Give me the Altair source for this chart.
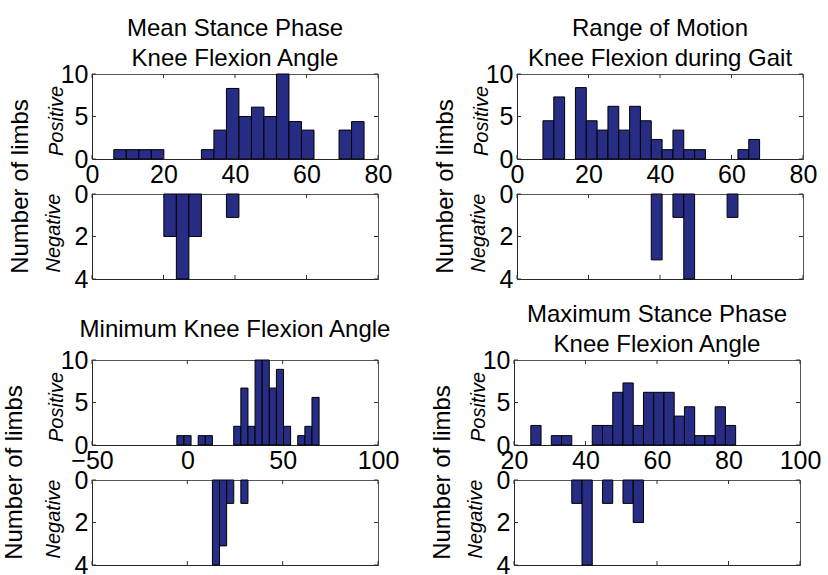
import altair as alt
import pandas as pd

FONT = "Liberation Sans"
BAR = "#272C84"
W, H = 286, 85

# ---- Panel data (histogram bins: start, width, counts per bin) ----
p1_title = ["Mean Stance Phase", "Knee Flexion Angle"]
p1_lo, p1_w = 6.1, 3.5
p1_pos = [1.1, 1.1, 1.1, 1.1, 0, 0, 0, 1.1, 3.4, 8.3, 5.0, 6.1, 5.0, 10, 4.4, 3.4, 0, 0, 3.4, 4.4]
p1_neg = [0, 0, 0, 0, 2, 4, 2, 0, 0, 1.1, 0, 0, 0, 0, 0, 0, 0, 0, 0, 0]
p1_xdom = [0, 80]
p1_xticks = [0, 20, 40, 60, 80]

p2_title = ["Range of Motion", "Knee Flexion during Gait"]
p2_lo, p2_w = 7.26, 3.03
p2_pos = [4.5, 7.3, 0, 8.4, 4.5, 3.4, 6.2, 3.4, 6.2, 4.5, 2.3, 1.1, 3.4, 1.1, 1.1, 0, 0, 0, 1.1, 2.3]
p2_neg = [0, 0, 0, 0, 0, 0, 0, 0, 0, 0, 3.1, 0, 1.1, 4, 0, 0, 0, 1.1, 0, 0]
p2_xdom = [0, 80]
p2_xticks = [0, 20, 40, 60, 80]

p3_title = ["", "Minimum Knee Flexion  Angle"]
p3_lo, p3_w = -5.5, 3.73
p3_pos = [1.1, 1.1, 0, 1.1, 1.1, 0, 0, 0, 2.2, 6.7, 2.2, 10, 10, 6.7, 8.9, 2.2, 0, 1.1, 2.2, 5.6]
p3_neg = [0, 0, 0, 0, 0, 4, 3.1, 1.1, 0, 1.1, 0, 0, 0, 0, 0, 0, 0, 0, 0, 0]
p3_xdom = [-50, 100]
p3_xticks = [-50, 0, 50, 100]

p4_title = ["Maximum Stance Phase", "Knee Flexion Angle"]
p4_lo, p4_w = 24.7, 2.865
p4_pos = [2.3, 0, 1.1, 1.1, 0, 0, 2.3, 2.3, 6.2, 7.3, 2.3, 6.2, 6.2, 6.2, 3.4, 4.5, 1.1, 1.1, 4.5, 2.3]
p4_neg = [0, 0, 0, 0, 1.1, 4, 0, 1.1, 0, 1.1, 2, 0, 0, 0, 0, 0, 0, 0, 0, 0]
p4_xdom = [20, 100]
p4_xticks = [20, 40, 60, 80, 100]

pos_ydom, pos_yticks = [0, 10], [0, 5, 10]
neg_ydom, neg_yticks = [0, 4], [0, 2, 4]

TICK = 4


def panel(lo, w, counts, xdom, xticks, ydom, yticks, negative, ylab, title=None,
          title_lh=30, title_off=-9):
    rows = [{"x0": lo + i * w, "x1": lo + (i + 1) * w, "n": c, "b": 0}
            for i, c in enumerate(counts) if c > 0]
    df = pd.DataFrame(rows)
    xs = alt.Scale(domain=xdom, nice=False, zero=False)
    ys = alt.Scale(domain=ydom, nice=False, reverse=negative)
    xaxis = alt.Axis(values=xticks, ticks=False, labels=not negative, grid=False,
                     title=None, labelFontSize=25, labelPadding=3,
                     labelOverlap=False, labelFlush=False, format="d")
    yaxis = alt.Axis(values=yticks, ticks=False, grid=False, title=ylab,
                     titleFontStyle="italic", titleFontSize=20, titleFontWeight="normal",
                     titlePadding=11 if negative else -6,
                     titleY=(H / 2 - 4) if negative else (H / 2 + 4),
                     labelFontSize=25, labelPadding=4,
                     labelOverlap=False, labelFlush=False)
    bars = alt.Chart(df).mark_bar(color=BAR, stroke="black", strokeWidth=1).encode(
        x=alt.X("x0:Q", scale=xs, axis=xaxis),
        x2="x1:Q",
        y=alt.Y("n:Q", scale=ys, axis=yaxis),
        y2="b:Q",
    )
    xt = pd.DataFrame({"x0": xticks})
    yt = pd.DataFrame({"n": yticks})
    tick_style = dict(color="#333333", strokeWidth=1)
    xb = alt.Chart(xt).mark_rule(**tick_style).encode(
        x=alt.X("x0:Q", scale=xs, axis=xaxis), y=alt.value(H), y2=alt.value(H - TICK))
    xtop = alt.Chart(xt).mark_rule(**tick_style).encode(
        x=alt.X("x0:Q", scale=xs, axis=xaxis), y=alt.value(0), y2=alt.value(TICK))
    yl = alt.Chart(yt).mark_rule(**tick_style).encode(
        y=alt.Y("n:Q", scale=ys, axis=yaxis), x=alt.value(0), x2=alt.value(TICK))
    yr = alt.Chart(yt).mark_rule(**tick_style).encode(
        y=alt.Y("n:Q", scale=ys, axis=yaxis), x=alt.value(W), x2=alt.value(W - TICK))
    props = dict(width=W, height=H)
    if title is not None:
        props["title"] = alt.TitleParams(text=title, fontSize=24, fontWeight="normal",
                                         font=FONT, anchor="middle", lineHeight=title_lh,
                                         offset=title_off, color="black")
    return alt.layer(bars, xb, xtop, yl, yr).properties(**props)


def column(lo, w, pos, neg, xdom, xticks, title, title_lh=30, title_off=-9, side_off=10):
    top = panel(lo, w, pos, xdom, xticks, pos_ydom, pos_yticks, False, "Positive",
                title=title, title_lh=title_lh, title_off=title_off)
    bot = panel(lo, w, neg, xdom, xticks, neg_ydom, neg_yticks, True, "Negative")
    return alt.vconcat(top, bot, spacing=-7).properties(
        title=alt.TitleParams(text="Number of limbs", orient="left", anchor="middle",
                              fontSize=24, fontWeight="normal", font=FONT,
                              offset=side_off, dx=-32, color="black"))


c1 = column(p1_lo, p1_w, p1_pos, p1_neg, p1_xdom, p1_xticks, p1_title)
c2 = column(p2_lo, p2_w, p2_pos, p2_neg, p2_xdom, p2_xticks, p2_title)
c3 = column(p3_lo, p3_w, p3_pos, p3_neg, p3_xdom, p3_xticks, p3_title,
            title_lh=15, title_off=6, side_off=16)
c4 = column(p4_lo, p4_w, p4_pos, p4_neg, p4_xdom, p4_xticks, p4_title)

row1 = alt.hconcat(c1, c2, spacing=40)
row2 = alt.hconcat(c3, c4, spacing=30)

chart = alt.vconcat(row1, row2, spacing=9).properties(
    padding={"left": 2, "top": 16, "right": 0, "bottom": 0},
    background="white",
).configure_view(stroke="#555555", strokeWidth=1).configure_axis(
    domainColor="#262626", domainWidth=1, labelFont=FONT, titleFont=FONT,
    labelColor="black", titleColor="black",
).configure_title(font=FONT)

chart.save("out.html", embed_options={"renderer": "svg", "actions": False})
